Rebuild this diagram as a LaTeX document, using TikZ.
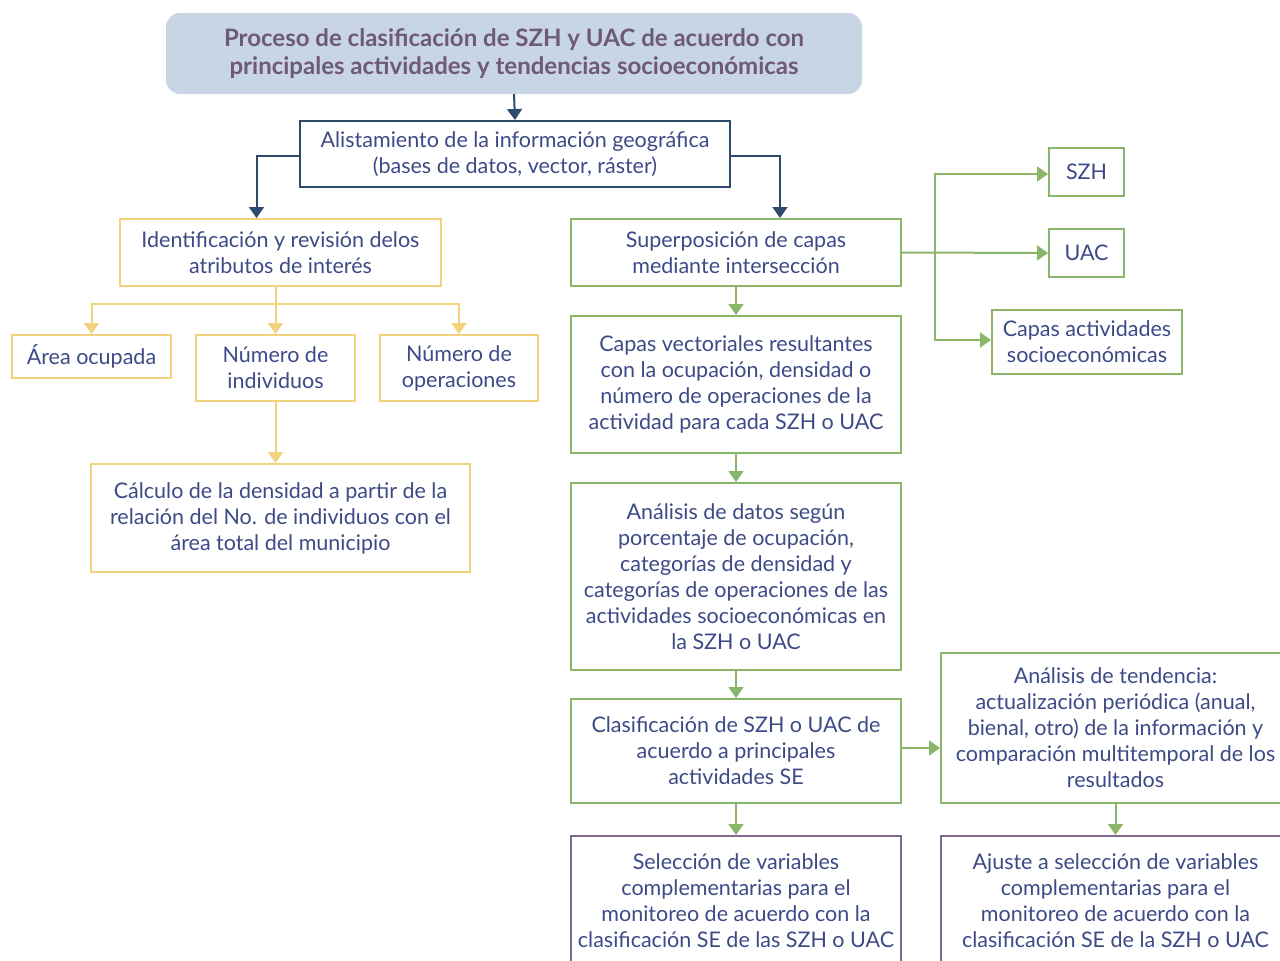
\documentclass[tikz,border=0pt]{standalone}
\usepackage{fontspec}
\setmainfont{Lato}
\usetikzlibrary{arrows.meta}
\definecolor{navyline}{HTML}{2E4B6E}
\definecolor{txtblue}{HTML}{3D4A86}
\definecolor{titletxt}{HTML}{6E5A73}
\definecolor{titlefill}{HTML}{C8D5E5}
\definecolor{ylw}{HTML}{F3D27E}
\definecolor{grn}{HTML}{8BB568}
\definecolor{prp}{HTML}{7D6A8E}
\tikzset{
  box/.style={draw, line width=2pt, align=center, inner sep=0pt, text=txtblue,
    font=\fontsize{21.5}{26}\selectfont},
  navybox/.style={box, draw=navyline},
  ylwbox/.style={box, draw=ylw},
  grnbox/.style={box, draw=grn},
  prpbox/.style={box, draw=prp},
  tip/.style={-{Triangle[width=15pt,length=11pt]}},
  navyarrow/.style={draw=navyline, line width=2pt, tip},
  ylwarrow/.style={draw=ylw, line width=2pt, tip},
  grnarrow/.style={draw=grn, line width=2pt, tip},
}
\begin{document}
\begin{tikzpicture}[x=1pt, y=-1pt]
\useasboundingbox (0,0) rectangle (1280,961);
\clip (0,0) rectangle (1280,961);

% title
\node[fill=titlefill, rounded corners=14pt, minimum width=696pt, minimum height=81pt,
  align=center, text=titletxt, font=\bfseries\fontsize{24}{28}\selectfont, inner sep=0pt]
  (title) at (514,53.5) {Proceso de clasificación de SZH y UAC de acuerdo con\\principales actividades y tendencias socioeconómicas};

% data preparation
\node[navybox, minimum width=430pt, minimum height=66pt] (alist) at (515,154)
  {Alistamiento de la información geográfica\\(bases de datos, vector, ráster)};

% left branch (attributes)
\node[ylwbox, minimum width=321pt, minimum height=67pt] (ident) at (280.5,252.5)
  {Identificación y revisión delos\\atributos de interés};
\node[ylwbox, minimum width=159pt, minimum height=43pt] (area) at (91.5,356.5)
  {Área ocupada};
\node[ylwbox, minimum width=159pt, minimum height=66pt] (nind) at (275.5,368)
  {Número de\\individuos};
\node[ylwbox, minimum width=158pt, minimum height=66pt] (nope) at (459,368)
  {Número de\\operaciones};
\node[ylwbox, minimum width=379pt, minimum height=108pt] (calc) at (280.5,518)
  {Cálculo de la densidad a partir de la\\relación del No. de individuos con el\\área total del municipio};

% right branch (overlay)
\node[grnbox, minimum width=330pt, minimum height=67pt] (super) at (736,252.5)
  {Superposición de capas\\mediante intersección};
\node[grnbox, minimum width=75pt, minimum height=48pt] (szh) at (1086.5,172)
  {SZH};
\node[grnbox, minimum width=75pt, minimum height=48pt] (uac) at (1086.5,253)
  {UAC};
\node[grnbox, minimum width=190pt, minimum height=64pt] (capa) at (1087,342)
  {Capas actividades\\socioeconómicas};
\node[grnbox, minimum width=330pt, minimum height=137pt] (vect) at (736,384.5)
  {Capas vectoriales resultantes\\con la ocupación, densidad o\\número de operaciones de la\\actividad para cada SZH o UAC};
\node[grnbox, minimum width=330pt, minimum height=187pt] (anal) at (736,576.5)
  {Análisis de datos según\\porcentaje de ocupación,\\categorías de densidad y\\categorías de operaciones de las\\actividades socioeconómicas en\\la SZH o UAC};
\node[grnbox, minimum width=330pt, minimum height=104pt] (clasif) at (736,751)
  {Clasificación de SZH o UAC de\\acuerdo a principales\\actividades SE};
\node[grnbox, minimum width=349pt, minimum height=150pt] (tend) at (1115.5,728)
  {Análisis de tendencia:\\actualización periódica (anual,\\bienal, otro) de la información y\\comparación multitemporal de los\\resultados};
\node[prpbox, minimum width=330pt, minimum height=130pt] (selec) at (736,901)
  {Selección de variables\\complementarias para el\\monitoreo de acuerdo con la\\clasificación SE de las SZH o UAC};
\node[prpbox, minimum width=349pt, minimum height=130pt] (ajuste) at (1115.5,901)
  {Ajuste a selección de variables\\complementarias para el\\monitoreo de acuerdo con la\\clasificación SE de la SZH o UAC};

% navy connectors
\draw[navyarrow] (title.south) -- (alist.north);
\draw[navyarrow] ([yshift=-2pt]alist.west) -| ([xshift=-24pt]ident.north);
\draw[navyarrow] ([yshift=-2pt]alist.east) -| ([xshift=44pt]super.north);

% yellow connectors
\coordinate (ybus) at (0,304);
\draw[ylwarrow] (ident.south -| nind.north) -- (nind.north);
\draw[ylwarrow] (ybus -| nind.north) -| (area.north);
\draw[ylwarrow] (ybus -| nind.north) -| (nope.north);
\draw[ylwarrow] (nind.south) -- (calc.north -| nind.south);

% green connectors
\coordinate (gbus) at (935,0);
\draw[grnarrow] (super.east) -- (uac.west);
\draw[grnarrow] (gbus |- super.east) |- ([yshift=-2pt]szh.west);
\draw[grnarrow] (gbus |- super.east) |- ([yshift=2pt]capa.west);
\draw[grnarrow] (super.south) -- (vect.north);
\draw[grnarrow] (vect.south) -- (anal.north);
\draw[grnarrow] (anal.south) -- (clasif.north);
\draw[grnarrow] ([yshift=3pt]clasif.east) -- ([yshift=3pt]clasif.east -| tend.west);
\draw[grnarrow] (clasif.south) -- (selec.north);
\draw[grnarrow] (tend.south) -- (ajuste.north);
\end{tikzpicture}
\end{document}
